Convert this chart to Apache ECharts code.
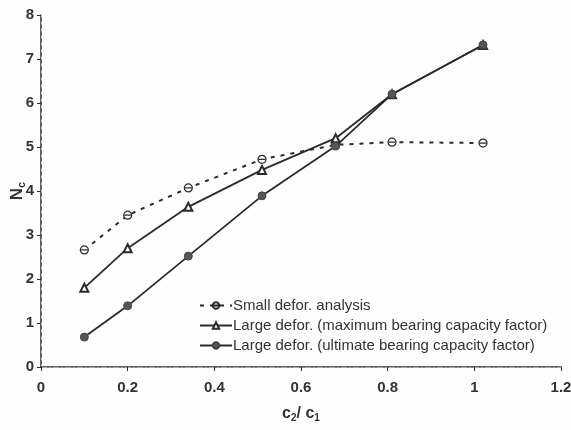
<!DOCTYPE html>
<html>
<head>
<meta charset="utf-8">
<script src="https://cdn.jsdelivr.net/npm/echarts@6/dist/echarts.min.js"></script>
<style>
  html, body { margin: 0; padding: 0; background: #fdfdfd; }
  #chart { width: 571px; height: 430px; }
</style>
</head>
<body>
<div id="chart"></div>
<script>
// c2/c1 ratios at which Nc was evaluated
const ratios = [0.1, 0.2, 0.34, 0.51, 0.68, 0.81, 1.02];
// Bearing capacity factor Nc for each analysis
const smallDefor = [2.66, 3.45, 4.07, 4.72, 5.05, 5.11, 5.09];
const largeDeforMax = [1.8, 2.7, 3.64, 4.48, 5.2, 6.2, 7.32];
const largeDeforUlt = [0.68, 1.39, 2.52, 3.89, 5.02, 6.2, 7.32];

const seriesNames = [
  'Small defor. analysis',
  'Large defor. (maximum bearing capacity factor)',
  'Large defor. (ultimate bearing capacity factor)'
];

const pairs = vals => ratios.map((r, i) => [r, vals[i]]);

const ink = '#2b2b2b';
const family = 'Liberation Sans, Arial, sans-serif';
const tickFont = { color: '#333', fontSize: 15, fontWeight: 'bold', fontFamily: family };
// circle with a bar through it (open theta marker)
const thetaSymbol = 'path://M0,-5A5,5 0 1,1 0,5A5,5 0 1,1 0,-5Z M-4,0L4,0';

const chart = echarts.init(document.getElementById('chart'), null, { renderer: 'canvas' });

chart.setOption({
  backgroundColor: '#fdfdfd',
  animation: false,
  grid: { left: 41, right: 10, top: 15, bottom: 63, show: false, containLabel: false, outerBoundsMode: 'none' },
  legend: {
    orient: 'vertical',
    left: 194,
    top: 293,
    itemWidth: 32,
    itemHeight: 8,
    itemGap: 5,
    textStyle: { color: '#333', fontSize: 15, fontFamily: family, padding: [0, 0, 0, -4] },
    data: seriesNames
  },
  xAxis: [{
    type: 'value',
    min: 0, max: 1.2, interval: 0.2,
    splitLine: { show: false },
    axisLine: { lineStyle: { color: ink, width: 1.5 } },
    axisTick: { length: 4, lineStyle: { color: ink } },
    axisLabel: Object.assign({ margin: 13 }, tickFont),
    name: '{c|c}{s|2}{c|/ c}{s|1}',
    nameLocation: 'middle',
    nameGap: 38,
    nameMoveOverlap: false,
    nameTextStyle: {
      rich: {
        c: { fontSize: 16, fontWeight: 'bold', color: '#333', fontFamily: family },
        s: { fontSize: 10, fontWeight: 'bold', color: '#333', fontFamily: family, padding: [8, 0, 0, 0] }
      }
    }
  }, {
    type: 'value',
    position: 'top',
    min: 0, max: 1.2,
    axisLine: { show: true, lineStyle: { color: '#aaa', width: 1, type: [6, 2, 2, 2] } },
    axisTick: { show: false },
    axisLabel: { show: false },
    splitLine: { show: false }
  }],
  yAxis: [{
    type: 'value',
    min: 0, max: 8, interval: 1,
    splitLine: { show: false },
    axisLine: { show: true, lineStyle: { color: ink, width: 1.5 } },
    axisTick: { show: true, length: 4, lineStyle: { color: ink } },
    axisLabel: Object.assign({ margin: 7 }, tickFont),
    name: '{n|N}{s|c}',
    nameLocation: 'middle',
    nameRotate: 90,
    nameGap: 14,
    nameMoveOverlap: false,
    nameTextStyle: {
      rich: {
        n: { fontSize: 17, fontWeight: 'bold', color: '#333', fontFamily: family },
        s: { fontSize: 11, fontWeight: 'bold', color: '#333', fontFamily: family, padding: [8, 0, 0, 0] }
      }
    }
  }, {
    type: 'value',
    position: 'right',
    min: 0, max: 8,
    axisLine: { show: true, lineStyle: { color: '#ccc', width: 1, type: [2, 5] } },
    axisTick: { show: false },
    axisLabel: { show: false },
    splitLine: { show: false }
  }],
  series: [{
    name: seriesNames[0],
    type: 'line',
    data: pairs(smallDefor),
    symbol: thetaSymbol,
    symbolSize: 8,
    lineStyle: { color: ink, width: 2, type: [4, 6] },
    itemStyle: { color: '#fdfdfd', borderColor: ink, borderWidth: 1.2 },
    z: 2
  }, {
    name: seriesNames[1],
    type: 'line',
    data: pairs(largeDeforMax),
    symbol: 'emptyTriangle',
    symbolSize: 8,
    lineStyle: { color: ink, width: 1.8 },
    itemStyle: { color: ink, borderColor: ink, borderWidth: 1.2 },
    z: 3
  }, {
    name: seriesNames[2],
    type: 'line',
    data: pairs(largeDeforUlt),
    symbol: 'circle',
    symbolSize: 8,
    lineStyle: { color: ink, width: 1.8 },
    itemStyle: { color: '#555', borderColor: '#444', borderWidth: 1 },
    z: 4
  }]
});
</script>
</body>
</html>
